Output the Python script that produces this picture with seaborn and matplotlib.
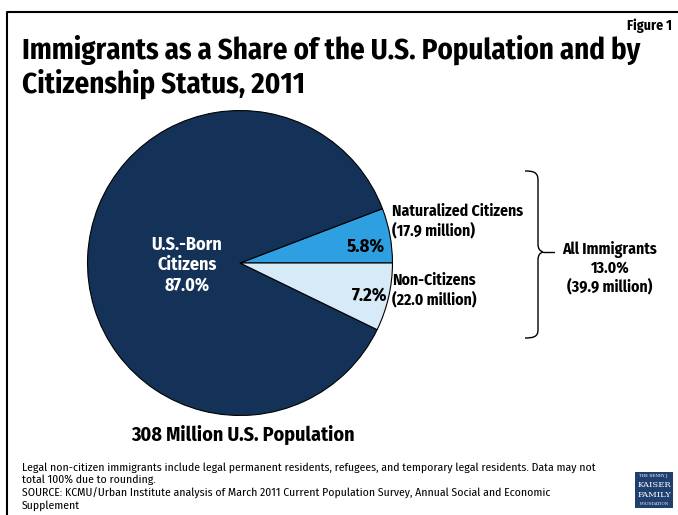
import matplotlib
matplotlib.use("Agg")
import matplotlib.pyplot as plt
from matplotlib.patches import Rectangle, PathPatch
from matplotlib.path import Path
import seaborn as sns

# Population shares, 2011
segments = ["Naturalized Citizens", "U.S.-Born Citizens", "Non-Citizens"]
shares = [5.8, 87.0, 7.2]
segment_millions = [17.9, None, 22.0]
immigrant_share = 13.0
immigrant_millions = 39.9
total_population_millions = 308

colors = ["#2E9FE0", "#143257", "#D6EAF8"]

sns.set_theme(style="white")
plt.rcParams["font.family"] = ["Fira Sans Condensed", "DejaVu Sans"]
plt.rcParams["text.color"] = "black"

W, H = 678, 515
fig = plt.figure(figsize=(W / 100, H / 100), dpi=100)
fig.patch.set_facecolor("white")

# pie
cx, cy, r = 240, 263, 154
pax = fig.add_axes([(cx - r) / W, 1 - (cy + r) / H, 2 * r / W, 2 * r / H])
pax.pie(shares, colors=colors, startangle=0, counterclock=True,
        wedgeprops=dict(edgecolor="black", linewidth=0.8))
pax.set_xlim(-1.01, 1.01)
pax.set_ylim(-1.01, 1.01)
pax.set_aspect("equal")
pax.axis("off")

# overlay in pixel coordinates for frame, text, bracket
ov = fig.add_axes([0, 0, 1, 1])
ov.set_xlim(0, W)
ov.set_ylim(H, 0)
ov.axis("off")
ov.patch.set_alpha(0)

# frame
ov.plot([7, 7, W + 5], [H + 5, 12, 12], color="black", lw=1.5, solid_capstyle="butt")

ov.text(672, 26, "Figure 1", ha="right", va="center", fontsize=10, fontweight="bold")
ov.text(22, 50, "Immigrants as a Share of the U.S. Population and by",
        ha="left", va="center", fontsize=20.8, fontweight="bold")
ov.text(22, 84, "Citizenship Status, 2011",
        ha="left", va="center", fontsize=20.8, fontweight="bold")

ov.text(187, 265, f"U.S.-Born\nCitizens\n{shares[1]:.1f}%", ha="center", va="center",
        color="white", fontsize=13, fontweight="bold", linespacing=1.2)
ov.text(385, 246, f"{shares[0]:.1f}%", ha="right", va="center",
        fontsize=13.5, fontweight="bold")
ov.text(387, 295, f"{shares[2]:.1f}%", ha="right", va="center",
        fontsize=13.5, fontweight="bold")

ov.text(392, 221, f"{segments[0]}\n({segment_millions[0]:.1f} million)", ha="left",
        va="center", fontsize=11.3, fontweight="bold", linespacing=1.15)
ov.text(392, 290, f"{segments[2]}\n({segment_millions[2]:.1f} million)", ha="left",
        va="center", fontsize=11.3, fontweight="bold", linespacing=1.15)

# curly bracket
verts = [
    (525, 171), (533, 171), (538, 172), (538, 180),
    (538, 244),
    (538, 249), (540, 251), (543, 252),
    (540, 253), (538, 255), (538, 260),
    (538, 330),
    (538, 337), (533, 338), (525, 338),
]
codes = [Path.MOVETO, Path.CURVE4, Path.CURVE4, Path.CURVE4,
         Path.LINETO,
         Path.CURVE4, Path.CURVE4, Path.CURVE4,
         Path.CURVE4, Path.CURVE4, Path.CURVE4,
         Path.LINETO,
         Path.CURVE4, Path.CURVE4, Path.CURVE4]
ov.add_patch(PathPatch(Path(verts, codes), fill=False, edgecolor="black", lw=1.0))
ov.plot([543, 554], [252, 252], color="black", lw=1.0)

ov.text(610, 268, f"All Immigrants\n{immigrant_share:.1f}%\n({immigrant_millions:.1f} million)",
        ha="center", va="center", fontsize=11.3, fontweight="bold", linespacing=1.15)

ov.text(243, 435, f"{total_population_millions} Million U.S. Population", ha="center",
        va="center", fontsize=14.4, fontweight="bold")

note = ("Legal non-citizen immigrants include legal permanent residents, refugees, and temporary legal residents. Data may not\n"
        "total 100% due to rounding.\n"
        "SOURCE: KCMU/Urban Institute analysis of March 2011 Current Population Survey, Annual Social and Economic\n"
        "Supplement")
ov.text(22, 462, note, ha="left", va="top", fontsize=8.4, linespacing=1.22)

# foundation logo
ov.add_patch(Rectangle((635, 472), 38, 36, facecolor="#1F3F6E", edgecolor="none"))
ov.text(654, 476, "THE HENRY J.", ha="center", va="center", color="white",
        fontsize=2.8, family="DejaVu Serif")
ov.text(654, 485, "KAISER", ha="center", va="center", color="white",
        fontsize=6, family="DejaVu Serif")
ov.text(654, 495, "FAMILY", ha="center", va="center", color="white",
        fontsize=6, family="DejaVu Serif")
ov.text(654, 504, "FOUNDATION", ha="center", va="center", color="white",
        fontsize=2.8, family="DejaVu Serif")

fig.savefig("out.png", dpi=100)
